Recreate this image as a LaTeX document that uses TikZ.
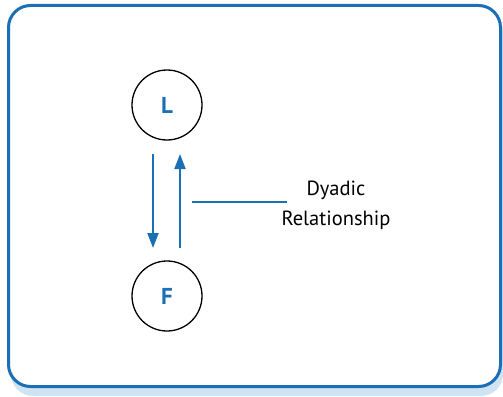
\documentclass[tikz,border=0pt]{standalone}
\usepackage{fontspec}
\setmainfont{PT Sans}
\usetikzlibrary{arrows.meta}
\definecolor{mblue}{HTML}{1A6FB5}
\definecolor{shadowblue}{HTML}{CFE3F3}
\begin{document}
\begin{tikzpicture}[x=1pt,y=-1pt,
  circ/.style={circle,draw=black,line width=1.3pt,minimum size=70pt,inner sep=0pt,
    text=mblue,font=\fontsize{23}{25}\selectfont\bfseries},
  rel/.style={mblue,line width=2pt},
  arr/.style={rel,-{Triangle[length=15pt,width=11pt]}},
  lbl/.style={font=\fontsize{20.5}{30}\selectfont,align=center}]
\useasboundingbox (0,0) rectangle (503,396);
\fill[shadowblue,rounded corners=22pt] (11,10) rectangle (503,396);
\draw[mblue,fill=white,line width=3pt,rounded corners=22pt] (8.5,5.5) rectangle (500.5,386.5);
\node[circ] (L) at (167,105) {L};
\node[circ] (F) at (167,296) {F};
\coordinate (d1) at (153,154);
\coordinate (d2) at (153,248);
\coordinate (u1) at (180,248);
\coordinate (u2) at (180,154);
\draw[arr] (d1) -- (d2);
\draw[arr] (u1) -- (u2);
\node[lbl] (T) at (336,205) {Dyadic\\Relationship};
\coordinate (h1) at (192,202);
\coordinate (h2) at (287,202);
\draw[rel] (h1) -- (h2);
\end{tikzpicture}
\end{document}
